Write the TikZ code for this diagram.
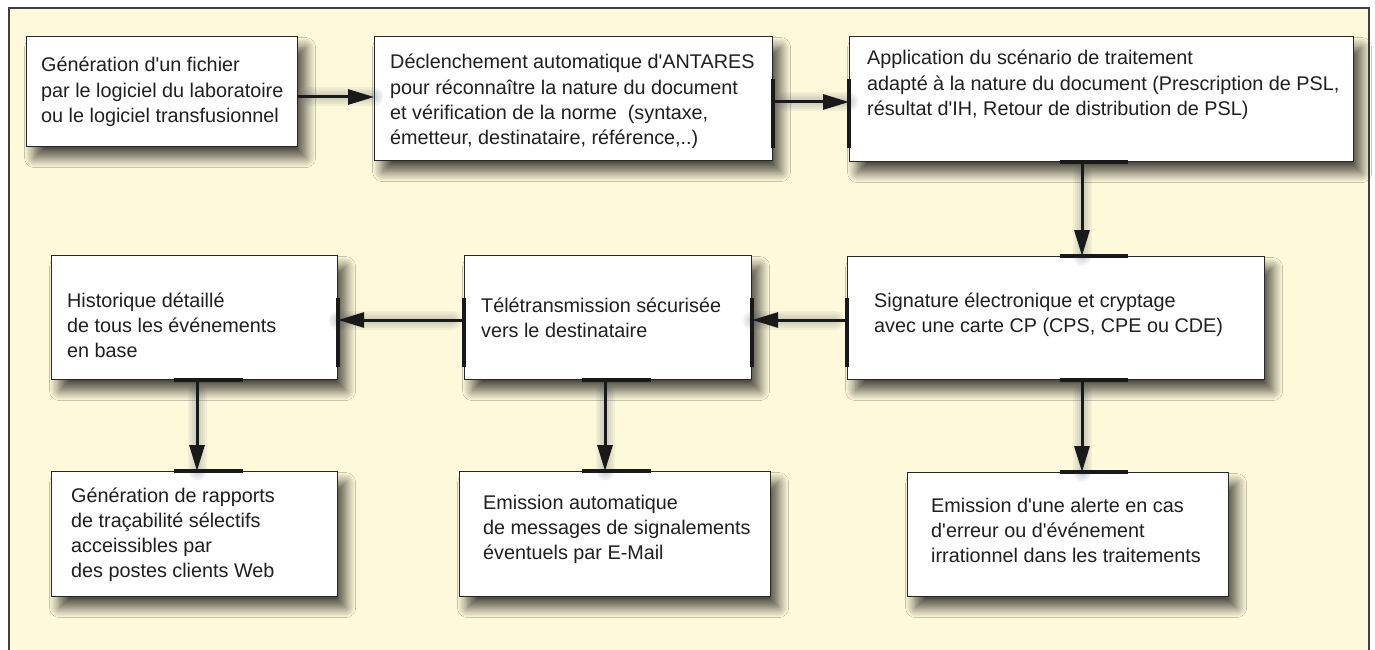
\documentclass[tikz,border=0pt]{standalone}
\usepackage{fontspec}
\setmainfont{Liberation Sans}[Ligatures=TeXOff]
\usetikzlibrary{arrows.meta,shadows.blur}

\definecolor{paper}{RGB}{254,249,218}
\definecolor{edge}{RGB}{40,40,40}
\definecolor{haze}{RGB}{50,60,100}

% left-aligned block of lines whose reference point is the first baseline
\newcommand{\boxtext}[1]{\vtop{\halign{##\hfil\cr#1\crcr}}}

% soft cast shadow under a connector: stacked translucent strokes
\newcommand{\softline}[2]{%
  \foreach \w in {3,7,11,15,19}{%
    \draw[line width=\w pt, draw=haze, draw opacity=0.055, line cap=round,
      shorten <=12pt, shift={(6pt,-6pt)}] #1 -- #2;}}

\tikzset{
  stepbox/.style={draw=edge, line width=1.2pt, fill=white, inner sep=0pt,
    anchor=north west,
    blur shadow={shadow xshift=8pt, shadow yshift=-11pt,
      shadow blur radius=10pt, shadow opacity=70, shadow blur steps=20}},
  boxlabel/.style={anchor=base west, inner sep=0pt, text=black!88,
    font=\fontsize{19.8}{25.2}\selectfont},
  arr/.style={draw=black!90, line width=3pt,
    -{Triangle[length=26pt,width=15pt]}},
  tick/.style={draw=black!90, line width=3.5pt}
}

\begin{document}
\begin{tikzpicture}[x=1pt,y=-1pt]
  % page and frame
  \fill[white] (0,0) rectangle (1375,650);
  \useasboundingbox (0,0) rectangle (1375,650);
  \draw[fill=paper, draw=black!75, line width=1.3pt] (9,8) rectangle (1369,668);

  % rows and columns of the connectors
  \coordinate (r1) at (0,97);
  \coordinate (r2) at (0,102);
  \coordinate (r3) at (0,320);
  \coordinate (c1) at (197,0);
  \coordinate (c2) at (605,0);
  \coordinate (c3) at (1082,0);

  % boxes
  \node[stepbox, minimum width=271pt, minimum height=110pt] (b1) at (26,36) {};
  \node[stepbox, minimum width=398pt, minimum height=124pt] (b2) at (374,36) {};
  \node[stepbox, minimum width=504pt, minimum height=125pt] (b3) at (849,36) {};
  \node[stepbox, minimum width=286pt, minimum height=124pt] (b4) at (51,255) {};
  \node[stepbox, minimum width=287pt, minimum height=124pt] (b5) at (464,255) {};
  \node[stepbox, minimum width=417pt, minimum height=123pt] (b6) at (847,256) {};
  \node[stepbox, minimum width=286pt, minimum height=125pt] (b7) at (51,471) {};
  \node[stepbox, minimum width=311pt, minimum height=125pt] (b8) at (459,471) {};
  \node[stepbox, minimum width=321pt, minimum height=124pt] (b9) at (907,472) {};

  % box texts
  \node[boxlabel] (t1) at (41,72) {\boxtext{Génération d'un fichier\cr
    par le logiciel du laboratoire\cr ou le logiciel transfusionnel}};
  \node[boxlabel] (t2) at (390,69) {\boxtext{Déclenchement automatique d'ANTARES\cr
    pour réconnaître la nature du document\cr
    et vérification de la norme\ \ (syntaxe,\cr
    émetteur, destinataire, référence,..)}};
  \node[boxlabel] (t3) at (867,65) {\boxtext{Application du scénario de traitement\cr
    adapté à la nature du document (Prescription de PSL,\cr
    résultat d'IH, Retour de distribution de PSL)}};
  \node[boxlabel] (t4) at (67,307) {\boxtext{Historique détaillé\cr
    de tous les événements\cr en base}};
  \node[boxlabel] (t5) at (481,312) {\boxtext{Télétransmission sécurisée\cr
    vers le destinataire}};
  \node[boxlabel] (t6) at (874,307) {\boxtext{Signature électronique et cryptage\cr
    avec une carte CP (CPS, CPE ou CDE)}};
  \node[boxlabel] (t7) at (71,502) {\boxtext{Génération de rapports\cr
    de traçabilité sélectifs\cr acceissibles par\cr des postes clients Web}};
  \node[boxlabel] (t8) at (483,509) {\boxtext{Emission automatique\cr
    de messages de signalements\cr éventuels par E-Mail}};
  \node[boxlabel] (t9) at (931,512) {\boxtext{Emission d'une alerte en cas\cr
    d'erreur ou d'événement\cr irrationnel dans les traitements}};

  % cast shadows of the connectors
  \softline{(b1.east |- r1)}{(b2.west |- r1)}
  \softline{(b2.east |- r2)}{(b3.west |- r2)}
  \softline{(b3.south -| c3)}{(b6.north -| c3)}
  \softline{(b6.west |- r3)}{(b5.east |- r3)}
  \softline{(b5.west |- r3)}{(b4.east |- r3)}
  \softline{(b4.south -| c1)}{(b7.north -| c1)}
  \softline{(b5.south -| c2)}{(b8.north -| c2)}
  \softline{(b6.south -| c3)}{(b9.north -| c3)}

  % thick marks on the edges where connectors meet
  \draw[tick] (b2.east |- 0,79) -- (b2.east |- 0,148);
  \draw[tick] (b3.west |- 0,79) -- (b3.west |- 0,148);
  \draw[tick] (b3.south -| 1060,0) -- (b3.south -| 1128,0);
  \draw[tick] (b6.north -| 1060,0) -- (b6.north -| 1128,0);
  \draw[tick] (b6.south -| 1060,0) -- (b6.south -| 1128,0);
  \draw[tick] (b9.north -| 1060,0) -- (b9.north -| 1128,0);
  \draw[tick] (b6.west |- 0,298) -- (b6.west |- 0,367);
  \draw[tick] (b5.east |- 0,298) -- (b5.east |- 0,367);
  \draw[tick] (b5.west |- 0,298) -- (b5.west |- 0,367);
  \draw[tick] (b4.east |- 0,298) -- (b4.east |- 0,367);
  \draw[tick] (b4.south -| 174,0) -- (b4.south -| 243,0);
  \draw[tick] (b7.north -| 174,0) -- (b7.north -| 243,0);
  \draw[tick] (b5.south -| 582,0) -- (b5.south -| 651,0);
  \draw[tick] (b8.north -| 582,0) -- (b8.north -| 651,0);

  % connectors
  \draw[arr] (b1.east |- r1) -- (b2.west |- r1);
  \draw[arr] (b2.east |- r2) -- (b3.west |- r2);
  \draw[arr] (b3.south -| c3) -- (b6.north -| c3);
  \draw[arr] (b6.west |- r3) -- (b5.east |- r3);
  \draw[arr] (b5.west |- r3) -- (b4.east |- r3);
  \draw[arr] (b4.south -| c1) -- (b7.north -| c1);
  \draw[arr] (b5.south -| c2) -- (b8.north -| c2);
  \draw[arr] (b6.south -| c3) -- (b9.north -| c3);
\end{tikzpicture}
\end{document}
